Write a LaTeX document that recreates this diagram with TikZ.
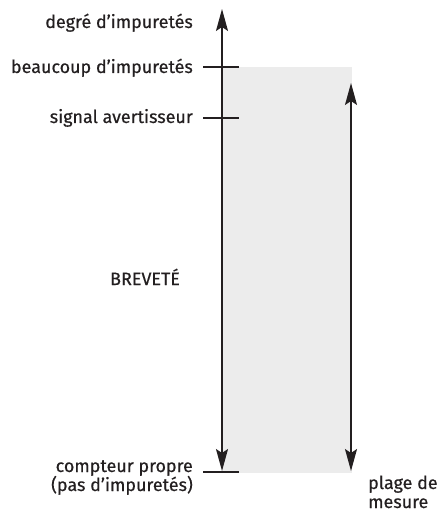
\documentclass[tikz,border=0pt]{standalone}
\usepackage{fontspec}
\setmainfont{Fira Sans}[FakeBold=0.5]
\usetikzlibrary{arrows.meta}
\definecolor{ink}{HTML}{231F20}
\definecolor{band}{HTML}{ECECEC}
\begin{document}
\begin{tikzpicture}[x=1bp,y=-1bp,
  axis/.style={draw=ink,line width=1.6bp},
  tip/.style={-{Stealth[length=22bp,width=12bp,inset=4bp]}},
  tick/.style={draw=ink,line width=1.4bp},
  lbl/.style={text=ink,font=\fontsize{18}{19}\selectfont,inner sep=0pt},
  ]
\useasboundingbox (0,0) rectangle (439,514);
\fill[band] (222,67) rectangle (352,473);
% ticks
\coordinate (t1a) at (203,67); \coordinate (t1b) at (239,67);
\coordinate (t2a) at (203,118); \coordinate (t2b) at (239,118);
\coordinate (t3a) at (203,472); \coordinate (t3b) at (239,472);
\draw[tick] (t1a) -- (t1b);
\draw[tick] (t2a) -- (t2b);
\draw[tick] (t3a) -- (t3b);
% main axis
\coordinate (atop) at (222,9); \coordinate (abot) at (222,471);
\coordinate (amid) at (222,260);
\draw[axis,tip] (amid) -- (atop);
\draw[axis,tip] (amid) -- (abot);
% range arrow
\coordinate (rtop) at (351,83); \coordinate (rbot) at (351,471);
\coordinate (rmid) at (351,280);
\draw[axis,tip] (rmid) -- (rtop);
\draw[axis,tip] (rmid) -- (rbot);
% labels
\node[lbl,anchor=base east] (l1) at (193,28) {degré d’impuretés};
\node[lbl,anchor=base east] (l2) at (193,73) {beaucoup d’impuretés};
\node[lbl,anchor=base east] (l3) at (193,123) {signal avertisseur};
\node[lbl,anchor=base] (l4) at (145,285) {BREVETÉ};
\node[lbl,anchor=base east] (l5a) at (193,472) {compteur propre};
\node[lbl,anchor=base east] (l5b) at (193,491) {(pas d’impuretés)};
\node[lbl,anchor=base west] (l6a) at (368,489) {plage de};
\node[lbl,anchor=base west] (l6b) at (368,508) {mesure};
\end{tikzpicture}
\end{document}
